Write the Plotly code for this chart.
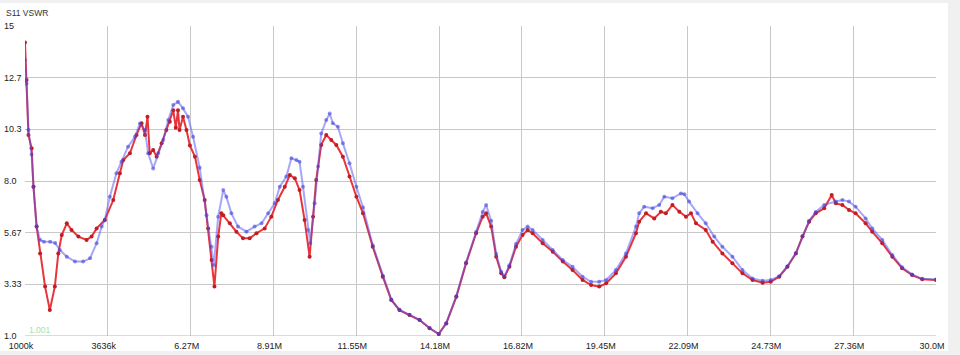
import plotly.graph_objects as go

# ---- data (frequency in MHz, VSWR) ----
freq_red = [1.00, 1.05, 1.11, 1.21, 1.27, 1.37, 1.48, 1.64, 1.79, 1.95, 2.06, 2.17, 2.33, 2.48, 2.70,
            2.96, 3.12, 3.28, 3.54, 3.81, 4.02, 4.13, 4.34, 4.55, 4.71, 4.82, 4.90, 4.97, 5.08, 5.19,
            5.35, 5.50, 5.61, 5.72, 5.80, 5.87, 5.92, 6.03, 6.14, 6.25, 6.41, 6.56, 6.72, 6.83, 6.94,
            7.03, 7.15, 7.25, 7.31, 7.52, 7.73, 7.94, 8.15, 8.37, 8.63, 8.84, 9.05, 9.27, 9.43, 9.59,
            9.74, 9.90, 10.06, 10.17, 10.27, 10.43, 10.59, 10.75, 10.91, 11.12, 11.33, 11.55, 11.76,
            12.07, 12.39, 12.66, 12.92, 13.24, 13.56, 13.88, 14.17, 14.41, 14.73, 15.04, 15.36, 15.57,
            15.68, 15.84, 16.00, 16.16, 16.26, 16.42, 16.63, 16.84, 17.00, 17.16, 17.48, 17.80, 18.12,
            18.43, 18.75, 19.02, 19.28, 19.50, 19.81, 20.13, 20.45, 20.55, 20.77, 21.03, 21.24, 21.40,
            21.61, 21.83, 22.04, 22.20, 22.36, 22.67, 22.89, 23.20, 23.52, 23.84, 24.16, 24.48, 24.74,
            25.01, 25.27, 25.54, 25.75, 25.96, 26.17, 26.44, 26.68, 26.81, 27.02, 27.23, 27.44, 27.76,
            27.97, 28.29, 28.61, 28.92, 29.24, 29.56, 30.00]
vswr_red = [14.25, 12.56, 10.08, 9.48, 7.74, 5.94, 4.73, 3.23, 2.17, 3.23, 4.73, 5.56, 6.09, 5.79, 5.49,
            5.34, 5.49, 5.86, 6.24, 7.14, 8.35, 8.95, 9.25, 10.08, 10.61, 10.08, 10.90, 9.25, 9.40, 9.10,
            9.70, 10.30, 10.68, 11.20, 10.40, 11.20, 10.30, 10.90, 10.30, 9.60, 9.10, 8.05, 7.14, 5.85, 4.43,
            3.23, 5.49, 6.54, 6.45, 6.09, 5.71, 5.41, 5.41, 5.64, 5.86, 6.39, 7.14, 7.74, 8.27, 8.12,
            7.59, 6.24, 4.58, 6.39, 8.05, 9.63, 10.08, 9.85, 9.63, 9.10, 8.20, 7.29, 6.54,
            5.03, 3.68, 2.63, 2.17, 1.95, 1.72, 1.35, 1.09, 1.57, 2.77, 4.28, 5.64, 6.39,
            6.54, 5.94, 4.58, 3.83, 3.65, 4.13, 5.03, 5.56, 5.79, 5.64, 5.19, 4.81, 4.36,
            3.98, 3.53, 3.30, 3.23, 3.38, 3.83, 4.58, 5.64, 6.16, 6.54, 6.31, 6.61, 6.54,
            6.92, 6.61, 6.39, 6.54, 6.09, 5.79, 5.26, 4.73, 4.28, 3.83, 3.53, 3.41, 3.45,
            3.68, 4.13, 4.73, 5.49, 6.16, 6.54, 6.77, 7.37, 6.99, 6.92, 6.69, 6.54, 6.09,
            5.71, 5.19, 4.58, 4.06, 3.75, 3.56, 3.53]

freq_blue = [1.00, 1.05, 1.11, 1.21, 1.27, 1.37, 1.48, 1.60, 1.80, 1.96, 2.11, 2.33, 2.59, 2.85, 3.07,
             3.28, 3.44, 3.54, 3.70, 3.91, 4.07, 4.28, 4.50, 4.66, 4.82, 4.92, 5.08, 5.24, 5.40, 5.56,
             5.72, 5.87, 6.03, 6.19, 6.35, 6.56, 6.78, 6.94, 7.01, 7.15, 7.31, 7.41, 7.57, 7.78, 8.05,
             8.31, 8.53, 8.74, 8.95, 9.11, 9.32, 9.48, 9.64, 9.74, 9.85, 10.01, 10.08, 10.22, 10.33,
             10.43, 10.59, 10.70, 10.80, 10.96, 11.12, 11.33, 11.55, 11.76, 12.07, 12.39, 12.66, 12.92,
             13.24, 13.56, 13.88, 14.17, 14.41, 14.73, 15.04, 15.36, 15.57, 15.68, 15.84, 16.00, 16.16,
             16.26, 16.42, 16.63, 16.84, 17.00, 17.16, 17.48, 17.80, 18.12, 18.43, 18.75, 19.02, 19.28,
             19.50, 19.81, 20.13, 20.45, 20.55, 20.71, 20.98, 21.19, 21.35, 21.61, 21.88, 21.99, 22.14,
             22.41, 22.67, 22.94, 23.20, 23.52, 23.84, 24.16, 24.48, 24.74, 25.01, 25.27, 25.54, 25.75,
             25.96, 26.17, 26.44, 26.81, 27.02, 27.23, 27.44, 27.76, 27.97, 28.29, 28.61, 28.92, 29.24,
             29.56, 30.00]
vswr_blue = [13.46, 12.40, 10.30, 9.20, 7.74, 5.94, 5.34, 5.26, 5.26, 5.20, 4.88, 4.58, 4.36, 4.36, 4.51,
             5.19, 5.94, 6.24, 7.29, 8.35, 8.87, 9.55, 10.00, 10.60, 10.30, 9.25, 8.57, 9.25, 9.85, 10.75,
             11.43, 11.58, 11.28, 10.90, 10.00, 8.60, 6.45, 5.03, 4.20, 6.39, 7.59, 7.29, 6.54, 5.94, 5.71,
             5.94, 6.09, 6.54, 6.99, 7.74, 8.20, 9.03, 8.95, 8.87, 7.74, 5.79, 5.19, 6.99, 8.65,
             10.15, 10.75, 11.05, 10.61, 10.45, 9.70, 8.80, 7.74, 6.80, 5.10, 3.72, 2.65, 2.18,
             1.96, 1.73, 1.36, 1.09, 1.58, 2.80, 4.32, 5.70, 6.60, 6.92, 6.20, 4.70, 3.90,
             3.70, 4.20, 5.15, 5.79, 5.94, 5.79, 5.34, 4.88, 4.43, 4.13, 3.68, 3.45, 3.45,
             3.53, 3.98, 4.73, 5.94, 6.54, 6.84, 6.77, 6.92, 7.29, 7.22, 7.44, 7.40, 7.07,
             6.54, 6.09, 5.49, 5.03, 4.58, 3.98, 3.60, 3.50, 3.53, 3.70, 4.15, 4.75, 5.52,
             6.20, 6.60, 6.92, 7.07, 7.14, 7.07, 6.84, 6.31, 5.86, 5.34, 4.66, 4.10, 3.78,
             3.58, 3.55]

ref_freq = [1.0, 30.0]
ref_level = [1.001, 1.001]

x_tickvals = [1.0, 3.636, 6.273, 8.909, 11.545, 14.182, 16.818, 19.455, 22.091, 24.727, 27.364, 30.0]
x_ticktext = ["1000k", "3636k", "6.27M", "8.91M", "11.55M", "14.18M", "16.82M", "19.45M",
              "22.09M", "24.73M", "27.36M", "30.0M"]
y_tickvals = [1.0, 3.333, 5.667, 8.0, 10.333, 12.667, 15.0]
y_ticktext = ["1.0", "3.33", "5.67", "8.0", "10.3", "12.7", "15"]

FONT = "Liberation Sans"

fig = go.Figure()
fig.add_trace(go.Scatter(x=ref_freq, y=ref_level, mode="lines",
                         line=dict(color="#8fd88f", width=1.2), hoverinfo="skip", showlegend=False))
fig.add_trace(go.Scatter(x=freq_red, y=vswr_red, mode="lines+markers", name="S11",
                         line=dict(color="#e8353a", width=2),
                         marker=dict(color="#c21d22", size=4), showlegend=False))
fig.add_trace(go.Scatter(x=freq_blue, y=vswr_blue, mode="lines+markers", name="S11 ref",
                         line=dict(color="rgba(80,80,245,0.5)", width=2),
                         marker=dict(color="rgba(60,60,215,0.55)", size=4), showlegend=False))

# background strips of the window frame
L, R, T, B = 25, 936, 26, 336
W, H = R - L, B - T
def px(x):
    return (x - L) / W
def py(y):
    return (B - y) / H
shapes = [
    dict(type="rect", xref="paper", yref="paper", x0=px(0), x1=px(960), y0=py(3), y1=py(0),
         fillcolor="#f0f0f0", line=dict(width=0), layer="below"),
    dict(type="rect", xref="paper", yref="paper", x0=px(948), x1=px(960), y0=py(355), y1=py(0),
         fillcolor="#f0f0f0", line=dict(width=0), layer="below"),
    dict(type="rect", xref="paper", yref="paper", x0=px(0), x1=px(960), y0=py(355), y1=py(351),
         fillcolor="#f0f0f0", line=dict(width=0), layer="below"),
]

fig.update_layout(
    width=960, height=355,
    margin=dict(l=L, r=960 - R, t=T, b=355 - B, autoexpand=False),
    paper_bgcolor="white", plot_bgcolor="white",
    font=dict(family=FONT, size=9, color="#222222"),
    shapes=shapes,
    annotations=[
        dict(text="S11 VSWR", xref="paper", yref="paper", x=px(4), y=py(12.5),
             xanchor="left", yanchor="middle", showarrow=False,
             font=dict(family=FONT, size=8.5, color="#333333")),
        dict(text="1.001", xref="x", yref="y", x=ref_freq[0], y=ref_level[0],
             xanchor="left", yanchor="bottom", xshift=2, yshift=-1, showarrow=False,
             font=dict(family=FONT, size=8.5, color="#a6e3a6")),
    ],
    xaxis=dict(range=[1.0, 30.0], tickvals=x_tickvals, ticktext=x_ticktext,
               showgrid=True, gridcolor="#c8c8c8", gridwidth=1, zeroline=False,
               showline=False, ticks="", ticklabelshift=-4, ticklabelstandoff=3,
               automargin=False,
               tickfont=dict(family=FONT, size=9, color="#222222")),
    yaxis=dict(range=[1.0, 15.0], tickvals=y_tickvals, ticktext=y_ticktext,
               showgrid=True, gridcolor="#c8c8c8", gridwidth=1, zeroline=False,
               showline=False, ticks="", ticklabelposition="inside", ticklabelstandoff=-24,
               ticklabeloverflow="allow", automargin=False,
               tickfont=dict(family=FONT, size=9, color="#222222")),
)

fig.write_html("out.html")
